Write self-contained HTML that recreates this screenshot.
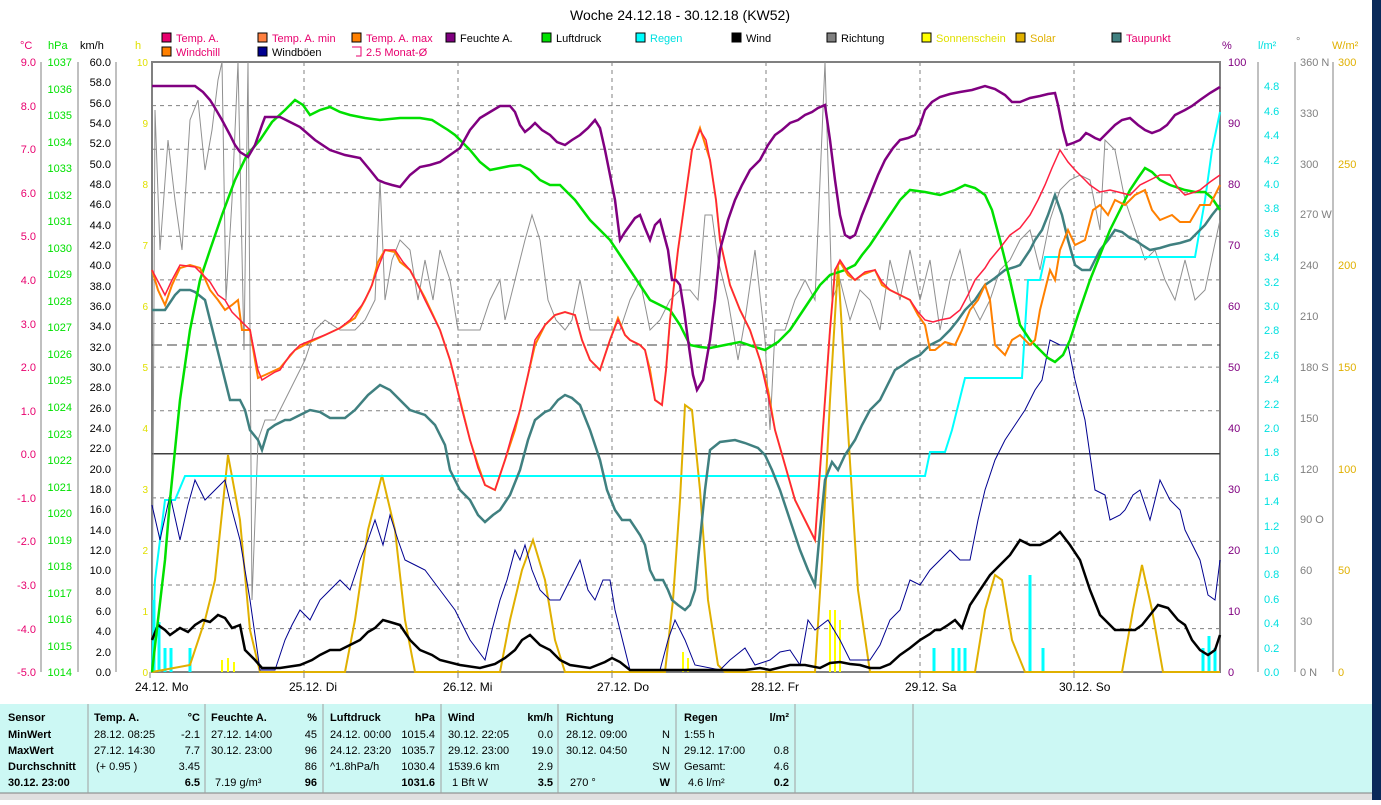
<!DOCTYPE html>
<html><head><meta charset="utf-8"><style>
body{margin:0;background:#fff;width:1381px;height:800px;overflow:hidden;font-family:"Liberation Sans",sans-serif}
svg text{font-family:"Liberation Sans",sans-serif}
</style></head><body>
<svg width="1381" height="800" viewBox="0 0 1381 800" xmlns="http://www.w3.org/2000/svg">
<rect x="0" y="0" width="1381" height="800" fill="#fff"/>
<rect x="1372" y="0" width="9" height="800" fill="#0a2a5a"/>
<text x="680" y="20" font-size="14" text-anchor="middle">Woche 24.12.18 - 30.12.18 (KW52)</text>
<!-- legend -->
<g font-size="11">
<rect x="162" y="33" width="9" height="9" fill="#e8006e" stroke="#000"/><text x="176" y="42" fill="#e8006e">Temp. A.</text>
<rect x="258" y="33" width="9" height="9" fill="#ff8040" stroke="#000"/><text x="272" y="42" fill="#e8006e">Temp. A. min</text>
<rect x="352" y="33" width="9" height="9" fill="#ff8000" stroke="#000"/><text x="366" y="42" fill="#e8006e">Temp. A. max</text>
<rect x="446" y="33" width="9" height="9" fill="#800080" stroke="#000"/><text x="460" y="42" fill="#000">Feuchte A.</text>
<rect x="542" y="33" width="9" height="9" fill="#00e000" stroke="#000"/><text x="556" y="42" fill="#000">Luftdruck</text>
<rect x="636" y="33" width="9" height="9" fill="#00ffff" stroke="#000"/><text x="650" y="42" fill="#00e0e0">Regen</text>
<rect x="732" y="33" width="9" height="9" fill="#000" stroke="#000"/><text x="746" y="42" fill="#000">Wind</text>
<rect x="827" y="33" width="9" height="9" fill="#808080" stroke="#000"/><text x="841" y="42" fill="#000">Richtung</text>
<rect x="922" y="33" width="9" height="9" fill="#ffff00" stroke="#000"/><text x="936" y="42" fill="#e0e000">Sonnenschein</text>
<rect x="1016" y="33" width="9" height="9" fill="#e0b000" stroke="#000"/><text x="1030" y="42" fill="#e0b000">Solar</text>
<rect x="1112" y="33" width="9" height="9" fill="#408080" stroke="#000"/><text x="1126" y="42" fill="#e8006e">Taupunkt</text>
<rect x="162" y="47" width="9" height="9" fill="#ff8000" stroke="#000"/><text x="176" y="56" fill="#e8006e">Windchill</text>
<rect x="258" y="47" width="9" height="9" fill="#000090" stroke="#000"/><text x="272" y="56" fill="#000">Windböen</text>
<path d="M352 47 H361 V56 H356" fill="none" stroke="#e8006e"/><text x="366" y="56" fill="#e8006e">2.5 Monat-Ø</text>
</g>
<!-- axis titles -->
<g font-size="11">
<text x="20" y="49" fill="#e8006e">°C</text>
<text x="48" y="49" fill="#00e000">hPa</text>
<text x="80" y="49" fill="#000">km/h</text>
<text x="135" y="49" fill="#e0e000">h</text>
<text x="1222" y="49" fill="#800080">%</text>
<text x="1258" y="49" fill="#00e0e0">l/m²</text>
<text x="1296" y="45" fill="#808080">°</text>
<text x="1332" y="49" fill="#e0b000">W/m²</text>
</g>
<!-- left axes -->
<g stroke="#808080" fill="none">
<line x1="41" y1="62" x2="41" y2="672"/><line x1="78" y1="62" x2="78" y2="672"/><line x1="116" y1="62" x2="116" y2="672"/>
<line x1="1258" y1="62" x2="1258" y2="672"/><line x1="1295" y1="62" x2="1295" y2="672"/><line x1="1333" y1="62" x2="1333" y2="672"/>
</g>
<g font-size="11" id="la"></g>
<!-- plot -->
<rect x="152" y="62" width="1068" height="610" fill="#fff" stroke="#808080" stroke-width="2"/>
<g stroke="#808080" stroke-dasharray="4,4" stroke-width="1">
<line x1="304" y1="62" x2="304" y2="672"/><line x1="458" y1="62" x2="458" y2="672"/><line x1="612" y1="62" x2="612" y2="672"/><line x1="766" y1="62" x2="766" y2="672"/><line x1="920" y1="62" x2="920" y2="672"/><line x1="1074" y1="62" x2="1074" y2="672"/>
<line x1="152" y1="105.6" x2="1220" y2="105.6"/><line x1="152" y1="149.2" x2="1220" y2="149.2"/><line x1="152" y1="192.8" x2="1220" y2="192.8"/><line x1="152" y1="236.3" x2="1220" y2="236.3"/><line x1="152" y1="279.9" x2="1220" y2="279.9"/><line x1="152" y1="323.5" x2="1220" y2="323.5"/><line x1="152" y1="367.1" x2="1220" y2="367.1"/><line x1="152" y1="410.7" x2="1220" y2="410.7"/><line x1="152" y1="497.9" x2="1220" y2="497.9"/><line x1="152" y1="541.4" x2="1220" y2="541.4"/><line x1="152" y1="585" x2="1220" y2="585"/><line x1="152" y1="628.6" x2="1220" y2="628.6"/>
</g>
<line x1="152" y1="345" x2="1220" y2="345" stroke="#404040" stroke-dasharray="10,5"/>
<line x1="152" y1="453.7" x2="1220" y2="453.7" stroke="#404040" stroke-width="1.5"/>
<!-- direction gray -->
<polyline fill="none" stroke="#909090" stroke-width="1" points="152,672 155,110 160,250 168,140 175,200 182,250 190,120 198,100 205,170 212,130 218,80 222,62 226,300 232,200 238,62 244,350 248,62 252,600 258,440 265,420 275,420 285,400 295,380 305,360 315,330 325,320 340,330 355,330 365,320 375,300 380,180 385,300 392,260 400,240 410,250 418,300 425,260 433,300 440,250 450,280 458,330 470,330 480,330 490,300 500,280 505,320 515,280 525,240 532,215 540,240 548,300 556,320 565,330 572,320 580,280 590,330 600,330 610,330 620,330 630,300 640,280 650,330 660,320 670,300 680,290 690,290 698,300 705,215 712,215 718,260 728,300 738,360 745,320 755,250 765,340 770,430 775,330 785,330 795,300 805,280 815,300 825,62 832,300 840,280 850,320 860,290 870,300 880,330 890,260 900,300 910,250 920,300 930,260 940,330 950,280 960,250 970,300 980,320 990,300 1000,270 1010,260 1020,240 1030,230 1040,270 1050,220 1060,190 1070,180 1080,175 1090,180 1100,230 1105,140 1115,150 1125,200 1135,230 1145,260 1155,250 1165,280 1175,300 1185,260 1195,300 1205,290 1220,220"/>
<!-- sunshine bars -->
<g stroke="#ffff00" stroke-width="2">
<line x1="222" y1="672" x2="222" y2="660"/><line x1="228" y1="672" x2="228" y2="658"/><line x1="234" y1="672" x2="234" y2="662"/>
<line x1="683" y1="672" x2="683" y2="652"/><line x1="688" y1="672" x2="688" y2="658"/>
<line x1="830" y1="672" x2="830" y2="610"/><line x1="835" y1="672" x2="835" y2="610"/><line x1="840" y1="672" x2="840" y2="620"/>
</g>
<!-- rain bars -->
<g stroke="#00ffff" stroke-width="3">
<line x1="154" y1="672" x2="154" y2="600"/><line x1="159" y1="672" x2="159" y2="622"/><line x1="165" y1="672" x2="165" y2="648"/><line x1="171" y1="672" x2="171" y2="648"/><line x1="190" y1="672" x2="190" y2="648"/>
<line x1="934" y1="672" x2="934" y2="648"/><line x1="953" y1="672" x2="953" y2="648"/><line x1="959" y1="672" x2="959" y2="648"/><line x1="965" y1="672" x2="965" y2="648"/>
<line x1="1030" y1="672" x2="1030" y2="575"/><line x1="1043" y1="672" x2="1043" y2="648"/>
<line x1="1203" y1="672" x2="1203" y2="648"/><line x1="1209" y1="672" x2="1209" y2="636"/><line x1="1215" y1="672" x2="1215" y2="648"/>
</g>
<!-- solar -->
<polyline fill="none" stroke="#e0b000" stroke-width="2" points="152,672 190,665 205,620 215,580 228,455 240,520 250,630 260,672 345,672 355,620 368,530 382,475 395,530 405,620 415,672 500,672 510,620 522,570 533,540 545,580 555,640 565,672 665,672 673,600 680,500 685,405 692,410 700,490 708,600 718,665 725,672 815,672 822,560 830,400 838,265 848,430 858,590 870,672 975,672 985,610 995,575 1002,580 1012,640 1025,672 1122,672 1133,610 1142,565 1152,610 1163,672 1220,672"/>
<!-- rain cumulative -->
<polyline fill="none" stroke="#00ffff" stroke-width="2" points="152,672 155,580 160,540 165,500 175,500 185,476 195,476 925,476 930,452 945,452 952,430 965,378 1022,378 1028,280 1040,280 1045,257 1195,257 1205,200 1212,150 1220,112"/>
<!-- gusts -->
<polyline fill="none" stroke="#000090" stroke-width="1" points="152,505 160,540 170,495 180,540 188,505 195,480 205,500 215,490 225,480 232,510 240,540 250,600 260,670 275,670 285,640 292,625 300,610 310,620 320,600 330,590 340,580 350,590 360,560 368,540 375,520 383,545 390,515 398,540 405,560 415,565 425,570 440,590 455,610 470,640 485,660 492,630 500,600 507,580 515,550 520,560 525,545 532,570 540,590 550,600 560,600 570,580 580,560 588,590 595,600 603,580 610,580 615,610 620,630 630,670 660,670 668,640 675,620 680,630 685,640 695,665 720,670 730,660 745,648 755,665 770,660 780,652 790,650 800,665 808,620 815,630 828,620 840,640 850,660 870,660 880,645 890,620 900,610 910,580 920,585 930,570 940,560 950,550 960,560 970,560 978,520 985,490 995,460 1005,440 1015,425 1025,410 1035,390 1042,380 1050,340 1060,345 1068,345 1075,380 1085,420 1095,490 1105,495 1110,520 1120,515 1125,510 1133,495 1140,490 1145,505 1150,520 1155,500 1160,480 1170,500 1180,510 1185,530 1195,550 1200,560 1208,595 1215,600 1220,560"/>
<!-- wind -->
<polyline fill="none" stroke="#000" stroke-width="2.5" points="152,640 158,625 165,630 170,635 180,628 188,632 195,625 203,620 210,622 218,615 225,618 232,628 240,625 245,650 255,660 262,668 280,668 300,665 312,660 320,655 330,650 340,650 350,645 360,640 368,632 375,628 383,620 390,622 400,625 410,640 420,650 432,655 440,660 460,665 480,668 495,664 505,658 515,650 522,640 530,635 540,645 550,650 560,660 570,665 590,668 605,662 612,658 620,662 630,670 700,670 745,670 760,668 770,670 790,665 805,665 820,668 830,663 840,662 850,664 860,665 870,668 880,668 890,664 900,655 910,648 920,640 930,634 935,630 940,630 948,625 955,620 962,628 970,605 980,590 990,575 995,570 1000,565 1010,555 1020,540 1030,545 1040,545 1050,540 1060,532 1070,545 1080,560 1090,590 1100,615 1110,625 1115,630 1125,630 1135,630 1142,625 1150,615 1158,605 1168,608 1178,620 1185,625 1192,640 1200,650 1208,655 1215,650 1220,635"/>
<!-- dew point -->
<polyline fill="none" stroke="#408080" stroke-width="2.5" points="152,310 165,310 175,295 180,290 190,290 195,292 205,300 215,340 225,380 230,400 240,400 245,410 250,430 258,440 262,450 268,430 275,425 285,420 290,420 300,415 310,410 320,412 330,418 345,418 355,410 368,395 380,385 390,390 395,395 410,410 425,415 435,425 445,445 450,470 460,490 470,500 478,515 485,522 493,515 500,510 510,495 520,470 528,440 535,420 545,412 550,410 558,400 565,395 572,398 580,405 590,430 600,460 607,490 615,510 622,520 630,520 640,535 645,545 650,570 655,580 663,580 668,590 672,600 678,605 685,610 690,605 695,590 700,540 705,490 710,450 720,442 735,440 745,443 758,448 765,455 772,470 780,490 790,520 800,550 808,570 815,585 820,530 825,480 832,462 838,470 845,455 855,440 862,425 870,410 880,400 885,390 895,370 903,365 910,360 920,355 930,345 940,340 950,330 958,320 965,310 975,300 985,285 995,278 1005,270 1015,267 1020,265 1030,250 1035,240 1042,230 1048,215 1055,195 1062,215 1068,240 1075,265 1082,270 1090,270 1095,260 1100,250 1108,240 1115,230 1122,232 1130,238 1135,240 1142,245 1150,250 1160,248 1170,245 1180,243 1190,240 1198,232 1205,225 1212,215 1220,205"/>
<!-- pressure -->
<polyline fill="none" stroke="#00e000" stroke-width="2.5" points="152,672 158,620 165,560 170,500 180,400 190,330 200,280 210,250 222,215 235,180 247,155 260,140 272,122 285,110 295,100 303,105 310,115 320,110 330,107 340,112 350,115 365,118 380,120 400,118 420,118 432,120 440,125 448,130 455,135 465,145 470,150 480,162 490,170 500,168 510,166 520,165 530,170 540,180 550,185 560,185 575,200 590,220 600,230 610,240 620,255 630,270 640,285 650,300 660,305 670,310 680,325 690,345 700,347 710,348 725,345 740,342 752,346 765,350 778,342 790,330 800,315 810,300 820,285 830,275 845,270 855,265 862,255 870,245 880,230 890,215 900,200 910,190 925,192 940,195 955,190 965,185 975,188 985,195 992,210 1000,240 1010,280 1020,325 1030,340 1040,350 1048,358 1055,362 1063,355 1070,340 1078,315 1090,280 1100,255 1110,230 1120,210 1130,190 1138,178 1145,168 1152,172 1160,180 1170,185 1185,190 1195,192 1205,192 1212,198 1220,210"/>
<!-- temp max orange -->
<polyline fill="none" stroke="#ff8000" stroke-width="2" points="152,270 158,290 165,305 172,285 180,268 190,265 200,268 210,290 218,300 225,310 232,305 238,300 242,330 250,330 258,378 265,375 280,368 295,350 310,342 325,335 340,328 355,318 365,300 372,285 378,262 385,250 395,252 400,262 410,270 418,285 425,298 440,330 450,360 455,380 465,420 470,440 478,465 485,485 495,490 505,460 515,430 520,410 528,375 535,345 545,325 555,315 565,312 575,315 582,340 590,360 600,370 610,340 618,318 625,335 630,340 640,345 645,350 650,370 655,400 662,405 666,370 670,320 678,250 685,200 692,150 700,128 710,160 716,200 720,240 730,285 740,310 750,330 760,360 768,390 775,430 785,465 795,500 805,520 815,540 820,470 825,400 830,330 835,270 840,262 848,275 855,280 862,275 875,270 882,285 890,290 900,295 910,300 918,315 925,325 930,350 935,350 945,342 955,345 962,330 970,310 978,300 985,285 990,300 995,345 1005,355 1012,340 1020,335 1030,345 1035,340 1040,310 1045,290 1050,270 1055,280 1060,250 1068,230 1075,245 1085,240 1093,210 1100,205 1108,215 1115,200 1125,205 1135,195 1145,190 1152,210 1160,220 1172,215 1180,222 1190,222 1200,205 1210,205 1220,185"/>
<!-- temp A red -->
<polyline fill="none" stroke="#ff2040" stroke-width="1.5" points="152,270 165,295 172,280 180,265 195,267 210,282 218,295 225,300 232,312 240,320 250,330 258,370 262,380 275,372 280,370 290,355 300,345 312,340 325,335 340,328 350,320 362,305 370,290 378,268 385,250 395,250 403,262 410,270 418,285 425,300 440,330 450,360 455,380 462,410 470,440 478,468 485,485 495,490 500,475 505,460 512,435 520,410 528,375 535,340 545,325 555,315 565,312 575,315 582,340 590,360 600,370 610,340 618,320 625,335 630,340 640,345 645,350 650,375 655,400 662,405 666,370 670,320 678,250 685,200 692,150 700,130 706,140 710,160 716,200 720,240 730,285 740,310 750,330 760,360 768,395 775,430 785,465 795,500 805,520 815,540 820,470 825,400 830,330 835,270 840,260 848,272 855,280 865,272 875,270 882,282 890,290 900,295 910,300 918,312 925,320 933,322 940,320 950,318 960,310 968,295 975,280 985,268 990,260 1000,248 1010,235 1020,228 1030,215 1038,200 1045,185 1052,168 1060,150 1068,162 1075,170 1085,180 1090,185 1100,192 1110,190 1118,192 1130,195 1140,185 1150,180 1160,175 1170,175 1178,188 1185,195 1195,192 1200,190 1210,182 1220,175"/>
<!-- humidity -->
<polyline fill="none" stroke="#800080" stroke-width="2.5" points="152,86 195,86 203,92 210,100 215,108 222,120 230,135 235,145 240,152 248,157 255,145 262,125 265,117 280,117 290,122 300,127 315,140 330,150 345,155 360,158 370,170 378,180 385,183 392,185 400,187 410,175 420,167 430,165 440,162 450,155 460,148 470,130 480,118 490,112 500,106 510,106 515,112 520,125 525,132 530,128 535,123 542,130 550,135 557,142 565,145 572,140 580,135 588,128 595,120 600,128 605,150 610,175 615,200 620,240 625,232 630,225 635,218 640,215 645,228 650,240 655,225 660,220 664,235 668,250 672,280 676,280 680,285 684,310 688,340 693,375 697,390 703,380 710,340 715,300 720,250 728,220 735,200 742,185 750,170 755,165 760,160 768,145 775,135 782,130 790,123 798,120 805,115 812,112 818,108 825,105 830,140 835,180 840,215 845,235 850,238 855,235 862,215 870,195 878,175 885,160 893,148 900,140 908,138 915,135 920,125 925,110 932,102 940,97 950,94 960,92 972,90 985,86 995,89 1005,95 1012,102 1020,102 1030,98 1040,96 1048,94 1055,93 1058,105 1063,130 1067,145 1073,143 1080,140 1086,133 1090,135 1095,138 1100,140 1108,132 1115,125 1122,120 1130,118 1138,125 1145,130 1152,133 1160,130 1167,125 1175,115 1185,110 1192,106 1200,100 1210,93 1220,87"/>
<!-- x labels -->
<g font-size="12">
<line x1="150" y1="672" x2="150" y2="678" stroke="#808080"/><text x="135" y="691">24.12.  Mo</text>
<line x1="304" y1="672" x2="304" y2="678" stroke="#808080"/><text x="289" y="691">25.12.  Di</text>
<line x1="458" y1="672" x2="458" y2="678" stroke="#808080"/><text x="443" y="691">26.12.  Mi</text>
<line x1="612" y1="672" x2="612" y2="678" stroke="#808080"/><text x="597" y="691">27.12.  Do</text>
<line x1="766" y1="672" x2="766" y2="678" stroke="#808080"/><text x="751" y="691">28.12.  Fr</text>
<line x1="920" y1="672" x2="920" y2="678" stroke="#808080"/><text x="905" y="691">29.12.  Sa</text>
<line x1="1074" y1="672" x2="1074" y2="678" stroke="#808080"/><text x="1059" y="691">30.12.  So</text>
</g>
<!-- axis labels -->
<g font-size="11" fill="#e8006e" text-anchor="end">
<text x="36" y="66">9.0</text><text x="36" y="110">8.0</text><text x="36" y="153">7.0</text><text x="36" y="197">6.0</text><text x="36" y="240">5.0</text><text x="36" y="284">4.0</text><text x="36" y="328">3.0</text><text x="36" y="371">2.0</text><text x="36" y="415">1.0</text><text x="36" y="458">0.0</text><text x="36" y="502">-1.0</text><text x="36" y="545">-2.0</text><text x="36" y="589">-3.0</text><text x="36" y="633">-4.0</text><text x="36" y="676">-5.0</text>
</g>
<g font-size="11" fill="#00e000" text-anchor="end">
<text x="72" y="66">1037</text><text x="72" y="93">1036</text><text x="72" y="119">1035</text><text x="72" y="146">1034</text><text x="72" y="172">1033</text><text x="72" y="199">1032</text><text x="72" y="225">1031</text><text x="72" y="252">1030</text><text x="72" y="278">1029</text><text x="72" y="305">1028</text><text x="72" y="331">1027</text><text x="72" y="358">1026</text><text x="72" y="384">1025</text><text x="72" y="411">1024</text><text x="72" y="438">1023</text><text x="72" y="464">1022</text><text x="72" y="491">1021</text><text x="72" y="517">1020</text><text x="72" y="544">1019</text><text x="72" y="570">1018</text><text x="72" y="597">1017</text><text x="72" y="623">1016</text><text x="72" y="650">1015</text><text x="72" y="676">1014</text>
</g>
<g font-size="11" fill="#000" text-anchor="end">
<text x="111" y="66">60.0</text><text x="111" y="86">58.0</text><text x="111" y="107">56.0</text><text x="111" y="127">54.0</text><text x="111" y="147">52.0</text><text x="111" y="168">50.0</text><text x="111" y="188">48.0</text><text x="111" y="208">46.0</text><text x="111" y="229">44.0</text><text x="111" y="249">42.0</text><text x="111" y="269">40.0</text><text x="111" y="290">38.0</text><text x="111" y="310">36.0</text><text x="111" y="330">34.0</text><text x="111" y="351">32.0</text><text x="111" y="371">30.0</text><text x="111" y="391">28.0</text><text x="111" y="412">26.0</text><text x="111" y="432">24.0</text><text x="111" y="452">22.0</text><text x="111" y="473">20.0</text><text x="111" y="493">18.0</text><text x="111" y="513">16.0</text><text x="111" y="534">14.0</text><text x="111" y="554">12.0</text><text x="111" y="574">10.0</text><text x="111" y="595">8.0</text><text x="111" y="615">6.0</text><text x="111" y="635">4.0</text><text x="111" y="656">2.0</text><text x="111" y="676">0.0</text>
</g>
<g font-size="10" fill="#e0e000" text-anchor="end">
<text x="148" y="66">10</text><text x="148" y="127">9</text><text x="148" y="188">8</text><text x="148" y="249">7</text><text x="148" y="310">6</text><text x="148" y="371">5</text><text x="148" y="432">4</text><text x="148" y="493">3</text><text x="148" y="554">2</text><text x="148" y="615">1</text><text x="148" y="676">0</text>
</g>
<g font-size="11" fill="#800080">
<text x="1228" y="66">100</text><text x="1228" y="127">90</text><text x="1228" y="188">80</text><text x="1228" y="249">70</text><text x="1228" y="310">60</text><text x="1228" y="371">50</text><text x="1228" y="432">40</text><text x="1228" y="493">30</text><text x="1228" y="554">20</text><text x="1228" y="615">10</text><text x="1228" y="676">0</text>
</g>
<g font-size="11" fill="#00e0e0">
<text x="1264" y="90">4.8</text><text x="1264" y="115">4.6</text><text x="1264" y="139">4.4</text><text x="1264" y="164">4.2</text><text x="1264" y="188">4.0</text><text x="1264" y="212">3.8</text><text x="1264" y="237">3.6</text><text x="1264" y="261">3.4</text><text x="1264" y="286">3.2</text><text x="1264" y="310">3.0</text><text x="1264" y="334">2.8</text><text x="1264" y="359">2.6</text><text x="1264" y="383">2.4</text><text x="1264" y="408">2.2</text><text x="1264" y="432">2.0</text><text x="1264" y="456">1.8</text><text x="1264" y="481">1.6</text><text x="1264" y="505">1.4</text><text x="1264" y="530">1.2</text><text x="1264" y="554">1.0</text><text x="1264" y="578">0.8</text><text x="1264" y="603">0.6</text><text x="1264" y="627">0.4</text><text x="1264" y="652">0.2</text><text x="1264" y="676">0.0</text>
</g>
<g font-size="11" fill="#808080">
<text x="1300" y="66">360 N</text><text x="1300" y="117">330</text><text x="1300" y="168">300</text><text x="1300" y="218">270 W</text><text x="1300" y="269">240</text><text x="1300" y="320">210</text><text x="1300" y="371">180 S</text><text x="1300" y="422">150</text><text x="1300" y="473">120</text><text x="1300" y="523">90 O</text><text x="1300" y="574">60</text><text x="1300" y="625">30</text><text x="1300" y="676">0 N</text>
</g>
<g font-size="11" fill="#e0b000">
<text x="1338" y="66">300</text><text x="1338" y="168">250</text><text x="1338" y="269">200</text><text x="1338" y="371">150</text><text x="1338" y="473">100</text><text x="1338" y="574">50</text><text x="1338" y="676">0</text>
</g>
<!-- table -->
<rect x="0" y="704" width="1372" height="89" fill="#ccf8f4"/>
<rect x="0" y="793" width="1372" height="7" fill="#e0e0e0"/>
<line x1="0" y1="793" x2="1372" y2="793" stroke="#808080"/>
<g stroke="#a0a0a0"><line x1="88" y1="704" x2="88" y2="793"/><line x1="205" y1="704" x2="205" y2="793"/><line x1="323" y1="704" x2="323" y2="793"/><line x1="441" y1="704" x2="441" y2="793"/><line x1="558" y1="704" x2="558" y2="793"/><line x1="676" y1="704" x2="676" y2="793"/><line x1="795" y1="704" x2="795" y2="793"/><line x1="913" y1="704" x2="913" y2="793"/></g>
<g font-size="11">
<g font-weight="bold"><text x="8" y="721">Sensor</text><text x="8" y="738">MinWert</text><text x="8" y="754">MaxWert</text><text x="8" y="770">Durchschnitt</text><text x="8" y="786">30.12. 23:00</text>
<text x="94" y="721">Temp. A.</text><text x="200" y="721" text-anchor="end">°C</text>
<text x="211" y="721">Feuchte A.</text><text x="317" y="721" text-anchor="end">%</text>
<text x="330" y="721">Luftdruck</text><text x="435" y="721" text-anchor="end">hPa</text>
<text x="448" y="721">Wind</text><text x="553" y="721" text-anchor="end">km/h</text>
<text x="566" y="721">Richtung</text>
<text x="684" y="721">Regen</text><text x="789" y="721" text-anchor="end">l/m²</text>
<text x="200" y="786" text-anchor="end">6.5</text><text x="317" y="786" text-anchor="end">96</text><text x="435" y="786" text-anchor="end">1031.6</text><text x="553" y="786" text-anchor="end">3.5</text><text x="670" y="786" text-anchor="end">W</text><text x="789" y="786" text-anchor="end">0.2</text></g>
<text x="94" y="738">28.12.  08:25</text><text x="200" y="738" text-anchor="end">-2.1</text>
<text x="94" y="754">27.12.  14:30</text><text x="200" y="754" text-anchor="end">7.7</text>
<text x="96" y="770">(+ 0.95 )</text><text x="200" y="770" text-anchor="end">3.45</text>
<text x="211" y="738">27.12.  14:00</text><text x="317" y="738" text-anchor="end">45</text>
<text x="211" y="754">30.12.  23:00</text><text x="317" y="754" text-anchor="end">96</text>
<text x="317" y="770" text-anchor="end">86</text><text x="215" y="786">7.19 g/m³</text>
<text x="330" y="738">24.12.  00:00</text><text x="435" y="738" text-anchor="end">1015.4</text>
<text x="330" y="754">24.12.  23:20</text><text x="435" y="754" text-anchor="end">1035.7</text>
<text x="330" y="770">^1.8hPa/h</text><text x="435" y="770" text-anchor="end">1030.4</text>
<text x="448" y="738">30.12.  22:05</text><text x="553" y="738" text-anchor="end">0.0</text>
<text x="448" y="754">29.12.  23:00</text><text x="553" y="754" text-anchor="end">19.0</text>
<text x="448" y="770">1539.6 km</text><text x="553" y="770" text-anchor="end">2.9</text>
<text x="452" y="786">1 Bft W</text>
<text x="566" y="738">28.12.  09:00</text><text x="670" y="738" text-anchor="end">N</text>
<text x="566" y="754">30.12.  04:50</text><text x="670" y="754" text-anchor="end">N</text>
<text x="670" y="770" text-anchor="end">SW</text><text x="570" y="786">270 °</text>
<text x="684" y="738">1:55 h</text>
<text x="684" y="754">29.12.  17:00</text><text x="789" y="754" text-anchor="end">0.8</text>
<text x="684" y="770">Gesamt:</text><text x="789" y="770" text-anchor="end">4.6</text>
<text x="688" y="786">4.6 l/m²</text>
</g>
</svg>
</body></html>
